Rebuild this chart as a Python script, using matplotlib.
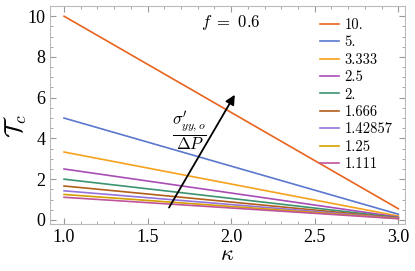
import numpy as np
import matplotlib
matplotlib.use('Agg')
from matplotlib import pyplot as plt
from matplotlib.ticker import MultipleLocator

plt.rcParams['font.family'] = 'Liberation Serif'
plt.rcParams['mathtext.fontset'] = 'cm'

# kappa endpoints and T_c at each end (lines are straight)
kappa = [1.0, 3.0]
labels = ['10.', '5.', '3.333', '2.5', '2.', '1.666', '1.42857', '1.25', '1.111']
tc_start = [10.0, 5.0, 3.333, 2.5, 2.0, 1.666, 1.42857, 1.25, 1.111]
tc_end = [0.55, 0.28, 0.19, 0.14, 0.11, 0.09, 0.08, 0.07, 0.06]
colors = ['#E8641E', '#5B78CF', '#F5A21C', '#A84DB5', '#3C9370',
          '#B25F1A', '#9673DB', '#D4A100', '#C0549A']

fig = plt.figure(figsize=(4.15, 2.71), dpi=100)
ax = fig.add_axes([50/415, 1-224/271, 355/415, 218/271])

for i in range(len(labels)):
    ax.plot(kappa, [tc_start[i], tc_end[i]], color=colors[i], lw=1.2, label=labels[i])

ax.set_xlim(0.916, 3.04)
ax.set_ylim(-0.2, 10.5)
ax.xaxis.set_major_locator(MultipleLocator(0.5))
ax.xaxis.set_minor_locator(MultipleLocator(0.1))
ax.yaxis.set_major_locator(MultipleLocator(2))
ax.yaxis.set_minor_locator(MultipleLocator(0.5))
ax.xaxis.set_major_formatter(matplotlib.ticker.FormatStrFormatter('%.1f'))
ax.tick_params(which='both', direction='in', top=True, right=True, labelsize=13, colors='#999999', labelcolor='black')
ax.tick_params(which='major', length=4)
ax.tick_params(which='minor', length=2)
for s in ax.spines.values():
    s.set_color('#bbbbbb')

ax.set_xlabel(r'$\kappa$', fontsize=16, labelpad=0)
ax.set_ylabel(r'$\mathcal{T}_c$', fontsize=18)
ax.yaxis.set_label_coords(-0.06, 0.45)

ax.annotate('', xy=(2.03, 6.26), xytext=(1.62, 0.49),
            arrowprops=dict(arrowstyle='-|>', color='black', lw=1.3, mutation_scale=14))
ax.text(1.75, 4.4, r'$\dfrac{\sigma^{\prime}_{yy,o}}{\Delta P}$', fontsize=12, ha='center', va='center')
ax.text(2.0, 9.7, r'$f\ =\ 0.6$', fontsize=12, ha='center', va='center')

ax.legend(loc='upper right', bbox_to_anchor=(1.0, 1.0), frameon=False,
          prop={'family': 'cmr10', 'size': 10.5},
          handlelength=1.3, handletextpad=0.4, labelspacing=0.25, borderaxespad=0.45)

fig.savefig('out.png', dpi=100)
